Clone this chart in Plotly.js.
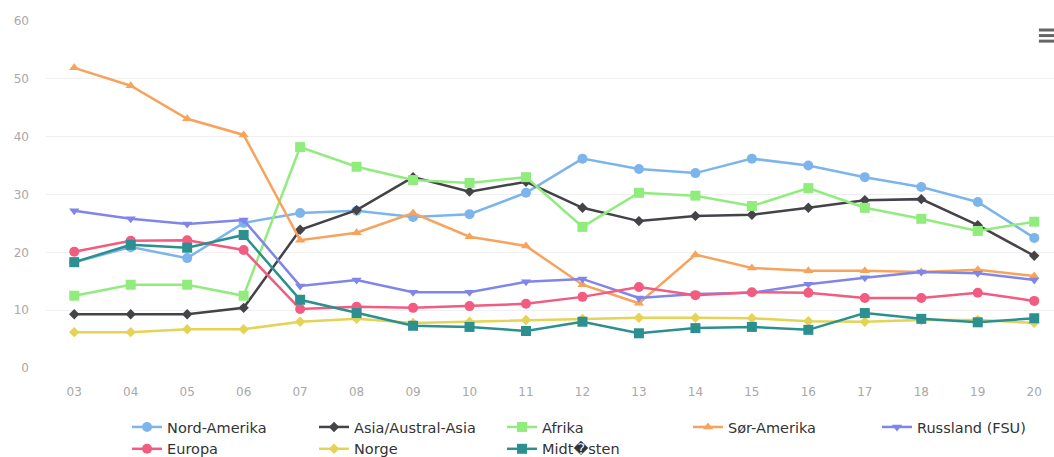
<!DOCTYPE html>
<html>
<head>
<meta charset="utf-8">
<script src="https://cdn.plot.ly/plotly-3.0.1.min.js"></script>
<style>
  html, body { margin: 0; padding: 0; background: #ffffff; }
  #chart { width: 1054px; height: 457px; }
</style>
</head>
<body>
<div id="chart"></div>
<script>
// ---- data ----
var years = ["03","04","05","06","07","08","09","10","11","12","13","14","15","16","17","18","19","20"];

var seriesNames = ["Nord-Amerika", "Asia/Austral-Asia", "Afrika", "Sør-Amerika", "Russland (FSU)", "Europa", "Norge", "Midt\uFFFDsten"];

var nordAmerika = [18.3, 20.9, 19.0, 25.1, 26.8, 27.2, 26.1, 26.6, 30.3, 36.2, 34.4, 33.7, 36.2, 35.0, 33.0, 31.3, 28.7, 22.5];
var asiaAustral = [9.3, 9.3, 9.3, 10.4, 23.9, 27.3, 33.0, 30.5, 32.2, 27.7, 25.4, 26.3, 26.5, 27.7, 29.0, 29.2, 24.7, 19.4];
var afrika      = [12.5, 14.4, 14.4, 12.5, 38.2, 34.8, 32.5, 32.0, 33.0, 24.4, 30.3, 29.8, 28.0, 31.1, 27.7, 25.8, 23.7, 25.3];
var sorAmerika  = [51.9, 48.8, 43.1, 40.3, 22.1, 23.4, 26.8, 22.7, 21.1, 14.4, 11.2, 19.6, 17.3, 16.8, 16.8, 16.6, 17.0, 15.9];
var russland    = [27.2, 25.8, 24.9, 25.6, 14.2, 15.2, 13.1, 13.1, 14.9, 15.4, 12.1, 12.8, 13.0, 14.5, 15.6, 16.6, 16.4, 15.2];
var europa      = [20.1, 22.0, 22.1, 20.4, 10.2, 10.6, 10.4, 10.7, 11.1, 12.3, 14.0, 12.6, 13.1, 13.0, 12.1, 12.1, 13.0, 11.6];
var norge       = [6.2, 6.2, 6.7, 6.7, 8.0, 8.5, 7.8, 8.0, 8.3, 8.5, 8.7, 8.7, 8.6, 8.1, 8.0, 8.3, 8.3, 7.8];
var midtosten   = [18.3, 21.3, 20.8, 23.0, 11.8, 9.5, 7.3, 7.1, 6.4, 8.0, 6.0, 6.9, 7.1, 6.6, 9.5, 8.5, 7.9, 8.6];

var yTicks = [0, 10, 20, 30, 40, 50, 60];

// ---- styles ----
var allValues = [nordAmerika, asiaAustral, afrika, sorAmerika, russland, europa, norge, midtosten];
var colors  = ["#7cb5ec", "#434348", "#90ed7d", "#f7a35c", "#8085e9", "#f15c80", "#e4d354", "#2b908f"];
var symbols = ["circle", "diamond", "square", "triangle-up", "triangle-down", "circle", "diamond", "square"];
var sizes   = [10, 8, 10, 9, 9, 10, 8, 10];
var legendIds = ["legend", "legend2", "legend3", "legend4", "legend5", "legend", "legend2", "legend3"];

var traces = allValues.map(function (vals, i) {
  return {
    type: "scatter",
    mode: "lines+markers",
    name: seriesNames[i],
    x: years,
    y: vals,
    line: { color: colors[i], width: 2.5 },
    marker: { color: colors[i], symbol: symbols[i], size: sizes[i] },
    cliponaxis: false,
    legend: legendIds[i],
    hoverinfo: "x+y+name"
  };
});

var legendFont = { family: "DejaVu Sans, Verdana, sans-serif", size: 14.5, color: "#333333" };
function mkLegend(x) {
  return {
    x: x, y: -0.124, xref: "paper", yref: "paper",
    xanchor: "left", yanchor: "top",
    orientation: "v",
    bgcolor: "rgba(0,0,0,0)",
    borderwidth: 0,
    font: legendFont,
    tracegroupgap: 0,
    traceorder: "normal"
  };
}

var layout = {
  width: 1054,
  height: 457,
  paper_bgcolor: "#ffffff",
  plot_bgcolor: "#ffffff",
  margin: { l: 46, r: 0, t: 21, b: 89, autoexpand: false },
  showlegend: true,
  legend:  mkLegend(0.0804),
  legend2: mkLegend(0.2659),
  legend3: mkLegend(0.4524),
  legend4: mkLegend(0.6369),
  legend5: mkLegend(0.8244),
  xaxis: {
    type: "category",
    categoryorder: "array",
    categoryarray: years,
    range: [-0.5, 17.35],
    showgrid: false,
    zeroline: false,
    showline: false,
    ticks: "",
    ticklabelstandoff: 15,
    tickfont: { family: "DejaVu Sans, sans-serif", size: 12, color: "#a8a8a8" },
    fixedrange: true
  },
  yaxis: {
    range: [0, 60],
    tickvals: yTicks,
    ticktext: yTicks.map(String),
    showgrid: true,
    gridcolor: "#f0f0f0",
    gridwidth: 1,
    zeroline: false,
    showline: false,
    ticks: "",
    ticklabelstandoff: 16,
    tickfont: { family: "DejaVu Sans, sans-serif", size: 12, color: "#a8a8a8" },
    fixedrange: true
  },
  shapes: [
    { type: "line", xref: "paper", yref: "paper", x0: 0.985, x1: 1.0, y0: 0.974, y1: 0.974, line: { color: "#666666", width: 3 } },
    { type: "line", xref: "paper", yref: "paper", x0: 0.985, x1: 1.0, y0: 0.958, y1: 0.958, line: { color: "#666666", width: 3 } },
    { type: "line", xref: "paper", yref: "paper", x0: 0.985, x1: 1.0, y0: 0.942, y1: 0.942, line: { color: "#666666", width: 3 } }
  ]
};

Plotly.newPlot("chart", traces, layout, { displayModeBar: false, responsive: false, staticPlot: false });
</script>
</body>
</html>
